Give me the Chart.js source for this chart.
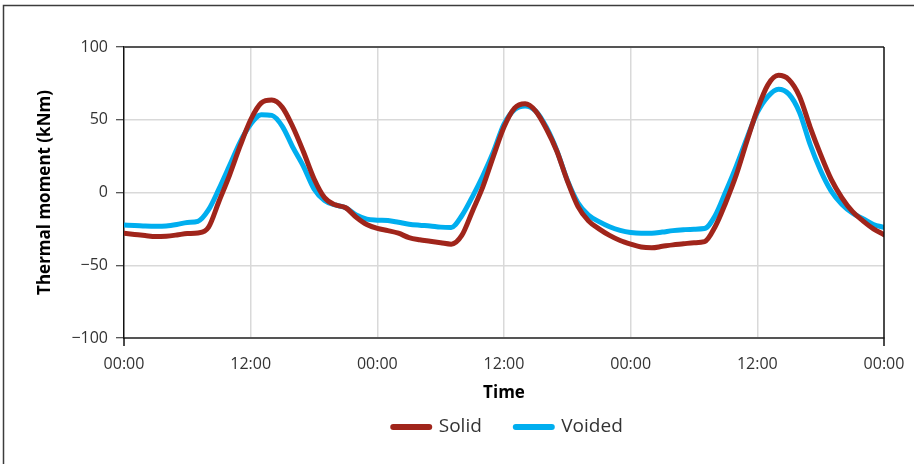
<!DOCTYPE html>
<html>
<head>
<meta charset="utf-8">
<script src="https://cdn.jsdelivr.net/npm/chart.js@4.4.0/dist/chart.umd.min.js"></script>
<style>
  html, body { margin: 0; padding: 0; background: #fff; }
  #wrap { width: 914px; height: 464px; }
</style>
</head>
<body>
<div id="wrap"><canvas id="thermalChart" width="914" height="464"></canvas></div>
<script>
// hours since the first midnight, three days
const hours = [
  0, 1, 2, 3, 4, 5, 6, 7, 8, 9, 10, 11, 12, 13, 14, 15, 16, 17, 18, 19, 20, 21, 22, 23,
  24, 25, 26, 27, 28, 29, 30, 31, 32, 33, 34, 35, 36, 37, 38, 39, 40, 41, 42, 43, 44, 45, 46, 47,
  48, 49, 50, 51, 52, 53, 54, 55, 56, 57, 58, 59, 60, 61, 62, 63, 64, 65, 66, 67, 68, 69, 70, 71, 72
];

// thermal moment, kNm
const solid = [
  -28, -28.8, -29.6, -30.3, -30, -29.2, -28.2, -27.8, -24, -6, 12, 32, 50, 61.5, 63.5, 58.5, 45, 28, 9.5, -3.5, -8.5, -10.5, -17, -22,
  -24.7, -26.2, -28, -31, -32.5, -33.5, -34.5, -35.5, -29.5, -13, 4, 25, 45, 58, 61, 56, 44, 28.5, 8, -9.5, -19.5, -25, -29.5, -33,
  -35.5, -37.5, -38, -37, -36, -35.3, -34.5, -33.8, -23.5, -7, 12, 35, 57, 74, 80.5, 77.5, 66, 45, 26, 9, -3.5, -13, -19.5, -25, -29
];
const voided = [
  -22.4, -22.6, -23, -23.2, -23, -22, -20.6, -19.8, -12, 2.5, 18.5, 34.7, 47, 53.5, 53, 45.5, 31, 18, 2.5, -5.5, -8.5, -10.5, -15.5, -18.3,
  -19, -19.3, -20.5, -21.8, -22.5, -23, -23.8, -24, -16, -3, 11.5, 28, 47, 57, 59.5, 56, 45, 29, 8.5, -7, -15.5, -20, -23.5, -26,
  -27.5, -28, -28, -27.2, -26.2, -25.6, -25.2, -24.8, -16, 0.5, 18, 37, 55, 66, 71, 67.5, 55, 33, 15, 1, -8, -14, -18, -22, -24
];

const xTicks = [0, 12, 24, 36, 48, 60, 72];
const yTicks = [-100, -50, 0, 50, 100];

const FONT = "'Open Sans', 'Noto Sans', sans-serif";
const RED = '#A0251B';
const BLUE = '#00AEEF';
const LEGEND_FONT = 19;
const LEGEND_GAP = 34;

const toPoints = vals => vals.map((v, i) => ({ x: hours[i], y: v }));

// outer frame, top/right edges of the plot box, legend placement
const framePlugin = {
  id: 'frame',
  beforeLayout(chart) {
    const lg = chart.legend;
    if (lg && !lg._fixedHeight) {
      const fit = lg.fit.bind(lg);
      lg.fit = function () { fit(); this.height = 36; };
      lg._fixedHeight = true;
    }
  },
  afterLayout(chart) {
    const lg = chart.legend;
    const a = chart.chartArea;
    // centre the legend under the plot and put its text line below the axis title
    lg.left = a.left + 4;
    lg.right = a.right + 4;
    lg.width = a.right - a.left;
    lg.top = a.bottom + 89 - LEGEND_GAP - LEGEND_FONT / 2;
    lg.height = LEGEND_GAP + LEGEND_FONT + 12;
    lg.bottom = lg.top + lg.height;
  },
  beforeDraw(chart) {
    const ctx = chart.ctx;
    ctx.save();
    ctx.strokeStyle = '#3c3c3c';
    ctx.lineWidth = 1.5;
    ctx.beginPath();
    ctx.moveTo(3.5, 464);
    ctx.lineTo(3.5, 5.5);
    ctx.lineTo(914, 5.5);
    ctx.stroke();
    ctx.restore();
  },
  afterDraw(chart) {
    const { ctx, chartArea: a } = chart;
    ctx.save();
    ctx.strokeStyle = '#555';
    ctx.lineWidth = 2;
    ctx.beginPath();
    ctx.moveTo(a.left, a.top);
    ctx.lineTo(a.right, a.top);
    ctx.stroke();
    ctx.strokeStyle = '#111';
    ctx.lineWidth = 1.5;
    ctx.beginPath();
    ctx.moveTo(a.right, a.top);
    ctx.lineTo(a.right, a.bottom + 8);
    ctx.moveTo(a.left, a.bottom);
    ctx.lineTo(a.left, a.bottom + 8);
    ctx.stroke();
    ctx.restore();
  }
};

const edgeHidden = (min, max) => c =>
  (c.tick && (c.tick.value === min || c.tick.value === max)) ? 'rgba(0,0,0,0)' : '#d9d9d9';

new Chart(document.getElementById('thermalChart'), {
  type: 'line',
  data: {
    datasets: [
      {
        label: 'Solid',
        data: toPoints(solid),
        borderColor: RED,
        backgroundColor: RED,
        borderWidth: 5,
        borderCapStyle: 'round',
        pointRadius: 0,
        cubicInterpolationMode: 'monotone'
      },
      {
        label: 'Voided',
        data: toPoints(voided),
        borderColor: BLUE,
        backgroundColor: BLUE,
        borderWidth: 5,
        borderCapStyle: 'round',
        pointRadius: 0,
        cubicInterpolationMode: 'monotone'
      }
    ]
  },
  options: {
    responsive: false,
    animation: false,
    devicePixelRatio: 1,
    layout: { padding: { left: 25, top: 47, right: 30, bottom: 21 } },
    plugins: {
      tooltip: { enabled: false },
      legend: {
        position: 'bottom',
        labels: {
          usePointStyle: true,
          pointStyle: 'line',
          pointStyleWidth: 36,
          padding: LEGEND_GAP,
          color: '#333',
          font: { family: FONT, size: LEGEND_FONT },
          generateLabels: chart =>
            Chart.defaults.plugins.legend.labels.generateLabels(chart)
              .map(l => ({ ...l, lineWidth: 6, lineCap: 'round' }))
        }
      }
    },
    scales: {
      x: {
        type: 'linear',
        min: 0,
        max: 72,
        afterFit: s => { s.height = 69; },
        afterBuildTicks: s => { s.ticks = xTicks.map(v => ({ value: v })); },
        ticks: {
          padding: 8,
          color: '#333',
          font: { family: FONT, size: 16 },
          callback: v => (v % 24 === 0 ? '00:00' : '12:00')
        },
        grid: { color: edgeHidden(0, 72), lineWidth: 1.5, tickLength: 9, tickColor: 'rgba(0,0,0,0)' },
        border: { color: '#555', width: 2 },
        title: {
          display: true,
          text: 'Time',
          color: '#000',
          font: { family: FONT, size: 17, weight: 'bold' },
          padding: { top: 0, bottom: 4 }
        }
      },
      y: {
        min: -100,
        max: 100,
        afterFit: s => { s.width = 99; },
        afterBuildTicks: s => { s.ticks = yTicks.map(v => ({ value: v })); },
        ticks: {
          padding: 8,
          color: '#333',
          font: { family: FONT, size: 16 },
          callback: v => (v < 0 ? '\u2212' + Math.abs(v) : String(v))
        },
        grid: { color: edgeHidden(-100, 100), lineWidth: 1.5, tickLength: 8, tickColor: '#222', tickWidth: 1 },
        border: { color: '#111', width: 1.5 },
        title: {
          display: true,
          text: 'Thermal moment (kNm)',
          color: '#000',
          font: { family: FONT, size: 17, weight: 'bold' },
          padding: { top: 10, bottom: 0 }
        }
      }
    }
  },
  plugins: [framePlugin]
});
</script>
</body>
</html>
